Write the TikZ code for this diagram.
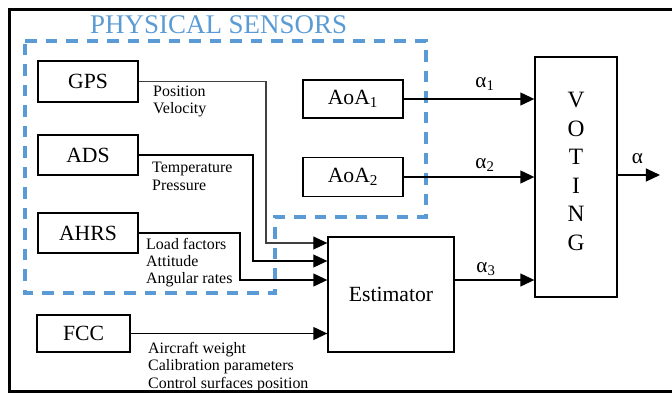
\documentclass[tikz,border=0pt]{standalone}
\usepackage{fontspec}
\setmainfont{Liberation Serif}
\usetikzlibrary{arrows.meta}
\definecolor{sensorblue}{RGB}{91,155,213}
\begin{document}
\begin{tikzpicture}[x=0.03cm, y=-0.03cm,
    blk/.style={draw, line width=1.1pt, inner sep=0pt, font=\fontsize{18.5}{20}\selectfont},
    lbl/.style={anchor=base west, inner sep=0pt, align=left, font=\fontsize{13.6}{14.6}\selectfont},
    sig/.style={anchor=base, inner sep=0pt, font=\fontsize{18}{20}\selectfont},
    arr/.style={line width=1.4pt, -{Triangle[length=12pt, width=11pt, color=black]}},
    sensor/.style={draw=sensorblue, line width=3.4pt, dash pattern=on 10pt off 7.5pt}]
    \useasboundingbox (0,0) rectangle (672,393);
    % frame and sensor area
    \draw[line width=2pt] (672,9.5) -- (9.5,9.5) -- (9.5,391.5) -- (672,391.5);
    \draw[sensor] (25,41) -- (426,41) -- (426,217) -- (275,217) -- (275,293) -- (25,293) -- cycle;
    \node[anchor=base west, inner sep=0pt, text=sensorblue, font=\fontsize{23}{26}\selectfont] (title) at (90,33) {PHYSICAL SENSORS};
    % blocks
    \node[blk, minimum width=3cm, minimum height=1.23cm] (gps) at (88,81.5) {GPS};
    \node[blk, minimum width=3cm, minimum height=1.2cm] (ads) at (88,155) {ADS};
    \node[blk, minimum width=3cm, minimum height=1.2cm] (ahrs) at (88,233) {AHRS};
    \node[blk, minimum width=2.79cm, minimum height=1.11cm] (fcc) at (83.5,333.5) {FCC};
    \node[blk, minimum width=3cm, minimum height=1.14cm] (aoa1) at (353,99) {AoA\textsubscript{1}};
    \node[blk, minimum width=3cm, minimum height=1.17cm] (aoa2) at (353,177) {AoA\textsubscript{2}};
    \node[blk, minimum width=3.78cm, minimum height=3.45cm] (est) at (391,294.5) {Estimator};
    \node[blk, minimum width=2.46cm, minimum height=7.2cm] (vote) at (576,177) {};
    \node[inner sep=0pt, align=center, font=\fontsize{20}{24.4}\selectfont] (votetxt) at (576,171.5) {V\\O\\T\\I\\N\\G};
    % estimator inputs
    \coordinate (in1) at (est.west |- 0,243);
    \coordinate (in2) at (est.west |- 0,261);
    \coordinate (in3) at (est.west |- 0,280);
    \coordinate (e3) at (est.east |- 0,280);
    \draw[arr, draw=black!75, line width=1pt] (gps.east) -| (in1 -| 266,0) -- (in1);
    \draw[arr, line width=1.1pt] (ads.east) -| (in2 -| 253,0) -- (in2);
    \draw[arr] (ahrs.east) -| (in3 -| 240,0) -- (in3);
    \draw[arr] (fcc.east) -- (fcc.east -| est.west);
    % voting inputs and output
    \draw[arr] (aoa1.east) -- (aoa1.east -| vote.west);
    \draw[arr] (aoa2.east) -- (aoa2.east -| vote.west);
    \draw[arr] (e3) -- (e3 -| vote.west);
    \coordinate (out) at (660,175);
    \draw[arr] (vote.east |- out) -- (out);
    % labels (anchored on the last line)
    \node[lbl] (l1) at (153,113.5) {Position\\Velocity};
    \node[lbl] (l2) at (152,190) {Temperature\\Pressure};
    \node[lbl] (l3) at (146,283.5) {Load factors\\Attitude\\Angular rates};
    \node[lbl] (l4) at (148,388) {Aircraft weight\\Calibration parameters\\Control surfaces position};
    \node[sig] (a1) at (485,87) {α\textsubscript{1}};
    \node[sig] (a2) at (485,168) {α\textsubscript{2}};
    \node[sig] (a3) at (486,272) {α\textsubscript{3}};
    \node[sig] (a0) at (637.5,163) {α};
\end{tikzpicture}
\end{document}
